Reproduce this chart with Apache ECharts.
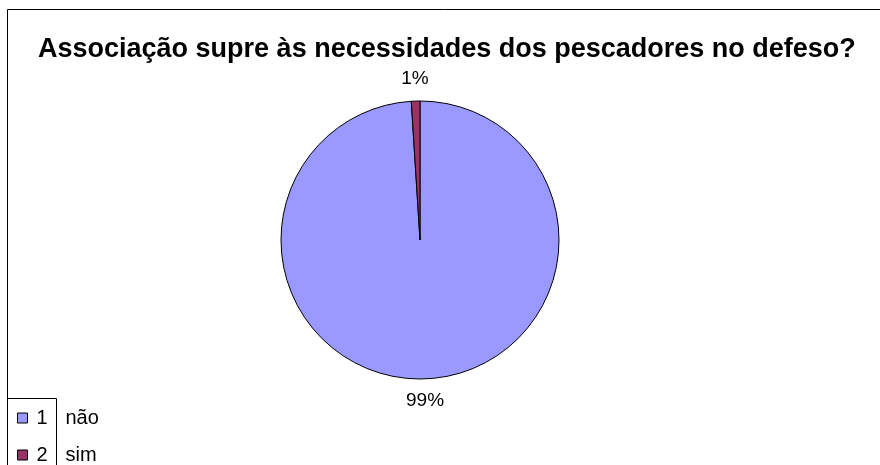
<!DOCTYPE html>
<html>
<head>
<meta charset="utf-8">
<script src="https://cdn.jsdelivr.net/npm/echarts@6/dist/echarts.min.js"></script>
<style>
  html, body { margin: 0; padding: 0; background: #fff; }
  #chart { width: 880px; height: 465px; }
</style>
</head>
<body>
<div id="chart"></div>
<script>
// dados do gráfico
const categories = ['não', 'sim'];
const values = [99, 1];
const colors = ['#9999FF', '#993366'];
const titleText = 'Associação supre às necessidades dos pescadores no defeso?';

const font = "'Liberation Sans', Arial, sans-serif";
const chart = echarts.init(document.getElementById('chart'));

chart.setOption({
  animation: false,
  backgroundColor: '#fff',
  title: {
    text: titleText,
    left: 38,
    top: 36,
    padding: 0,
    textStyle: {
      fontFamily: font,
      fontSize: 27,
      fontWeight: 'bold',
      color: '#000'
    }
  },
  legend: {
    orient: 'vertical',
    left: 17,
    top: 408,
    padding: 0,
    itemWidth: 10,
    itemHeight: 10,
    itemGap: 17,
    icon: 'rect',
    itemStyle: { borderColor: '#000', borderWidth: 1 },
    data: categories,
    formatter: function (name) {
      return '{n|' + (categories.indexOf(name) + 1) + '}{t|' + name + '}';
    },
    textStyle: {
      fontFamily: font,
      fontSize: 20,
      color: '#000',
      rich: {
        n: { fontFamily: font, fontSize: 20, width: 21, padding: [0, 0, 0, 4], lineHeight: 20 },
        t: { fontFamily: font, fontSize: 20, padding: [0, 0, 0, 8], lineHeight: 20 }
      }
    }
  },
  // moldura do gráfico e caixa da legenda
  graphic: [
    {
      type: 'rect',
      shape: { x: 7.5, y: 9.5, width: 950, height: 520 },
      style: { fill: 'none', stroke: '#000', lineWidth: 1 },
      silent: true
    },
    {
      type: 'polyline',
      shape: { points: [[7.5, 398.5], [56.5, 398.5], [56.5, 480]] },
      style: { fill: 'none', stroke: '#000', lineWidth: 1 },
      silent: true
    }
  ],
  series: [{
    type: 'pie',
    center: [420, 240],
    radius: 139,
    startAngle: 90,
    clockwise: true,
    avoidLabelOverlap: false,
    itemStyle: { borderColor: '#000', borderWidth: 1 },
    label: {
      show: true,
      position: 'outside',
      formatter: '{d}%',
      fontFamily: font,
      fontSize: 19,
      color: '#000',
      distanceToLabelLine: 0
    },
    labelLine: { show: false, length: 22, length2: 0 },
    labelLayout: function () {
      return { align: 'center' };
    },
    emphasis: { disabled: true },
    data: categories.map((c, i) => ({
      name: c,
      value: values[i],
      itemStyle: { color: colors[i] }
    }))
  }]
});
</script>
</body>
</html>
